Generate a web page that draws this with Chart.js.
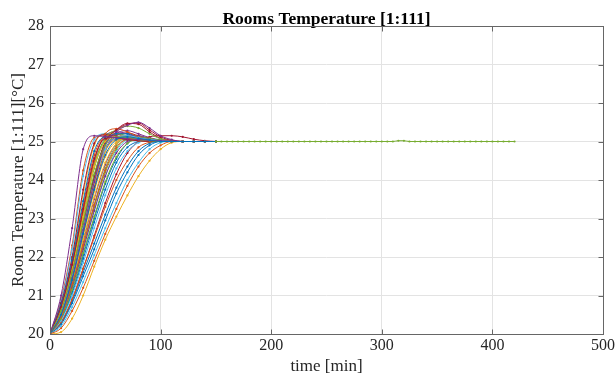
<!DOCTYPE html>
<html>
<head>
<meta charset="utf-8">
<script src="https://cdn.jsdelivr.net/npm/chart.js@4/dist/chart.umd.min.js"></script>
<style>
    html, body { margin: 0; padding: 0; background: #fff; }
</style>
</head>
<body>
<canvas id="chart" width="615" height="382"></canvas>
<script>
// time grid of every room curve [min]
var times = [0, 10, 20, 30, 40, 50, 60, 70, 80, 90, 100, 110, 120, 130, 140, 150];

// room temperatures [°C], one array per room
var rooms = [
    [20, 20.5, 21.4, 22.6, 23.75, 24.65, 25.05, 25.12, 25.08, 25.04, 25, 25, 25, 25, 25, 25],
    [20, 20.15, 20.6, 21.2, 21.9, 22.6, 23.25, 23.85, 24.35, 24.7, 24.9, 25, 25, 25, 25, 25],
    [20, 20.05, 20.4, 21.0, 21.75, 22.45, 23.05, 23.6, 24.1, 24.5, 24.8, 24.97, 25, 25, 25, 25],
    [20, 21.0, 22.75, 24.8, 25.15, 25.13, 25.1, 25.07, 25.05, 25.03, 25.02, 25.01, 25, 25, 25, 25],
    [20, 20.6, 21.6, 22.9, 24.15, 24.9, 25.12, 25.1, 25.05, 25.02, 25, 25, 25, 25, 25, 25],
    [20, 20.2, 20.7, 21.35, 22.05, 22.75, 23.4, 24.0, 24.45, 24.8, 24.97, 25, 25, 25, 25, 25],
    [20, 20.7, 21.8, 23.25, 24.55, 25.08, 25.1, 25.05, 25.02, 25, 25, 25, 25, 25, 25, 25],
    [20, 20.25, 20.8, 21.5, 22.2, 22.95, 23.65, 24.2, 24.65, 24.9, 25, 25, 25, 25, 25, 25],
    [20, 20.45, 21.3, 22.3, 23.35, 24.25, 24.85, 25.05, 25.06, 25.03, 25, 25, 25, 25, 25, 25],
    [20, 20.65, 21.7, 23.05, 24.35, 25.0, 25.12, 25.06, 25.02, 25, 25, 25, 25, 25, 25, 25],
    [20, 20.5, 21.45, 22.7, 23.95, 24.9, 25.25, 25.42, 25.5, 25.35, 25.15, 25.05, 25, 25, 25, 25],
    [20, 20.4, 21.15, 22.1, 23.05, 23.95, 24.6, 24.95, 25.05, 25.03, 25, 25, 25, 25, 25, 25],
    [20, 20.55, 21.5, 22.75, 23.95, 24.8, 25.1, 25.15, 25.1, 25.05, 25.02, 25, 25, 25, 25, 25],
    [20, 20.55, 21.55, 22.85, 24.1, 25.0, 25.3, 25.45, 25.48, 25.3, 25.12, 25.03, 25, 25, 25, 25],
    [20, 20.75, 21.9, 23.45, 24.75, 25.12, 25.1, 25.05, 25.02, 25, 25, 25, 25, 25, 25, 25],
    [20, 20.65, 21.8, 23.2, 24.5, 25.2, 25.33, 25.25, 25.12, 25.05, 25, 25, 25, 25, 25, 25],
    [20, 20.48, 21.35, 22.45, 23.55, 24.45, 24.95, 25.1, 25.08, 25.04, 25, 25, 25, 25, 25, 25],
    [20, 20.42, 21.2, 22.2, 23.2, 24.1, 24.7, 25.0, 25.05, 25.03, 25, 25, 25, 25, 25, 25],
    [20, 20.6, 21.7, 23.1, 24.4, 25.1, 25.3, 25.4, 25.35, 25.2, 25.07, 25.02, 25, 25, 25, 25],
    [20, 20.35, 21.0, 21.85, 22.75, 23.6, 24.3, 24.75, 24.97, 25.03, 25.02, 25, 25, 25, 25, 25],
    [20, 20.8, 22.0, 23.75, 24.95, 25.18, 25.14, 25.08, 25.04, 25.02, 25, 25, 25, 25, 25, 25],
    [20, 20.58, 21.55, 22.85, 24.1, 24.95, 25.2, 25.2, 25.12, 25.05, 25.02, 25, 25, 25, 25, 25],
    [20, 20.3, 20.9, 21.7, 22.5, 23.3, 24.0, 24.5, 24.85, 24.98, 25.02, 25.01, 25, 25, 25, 25],
    [20, 20.5, 21.38, 22.55, 23.7, 24.6, 25.0, 25.08, 25.05, 25.02, 25, 25, 25, 25, 25, 25],
    [20, 20.68, 21.75, 23.15, 24.5, 25.15, 25.25, 25.2, 25.1, 25.04, 25.01, 25, 25, 25, 25, 25],
    [20, 20.44, 21.25, 22.28, 23.3, 24.2, 24.8, 25.08, 25.12, 25.08, 25.03, 25, 25, 25, 25, 25],
    [20, 20.85, 22.2, 24.1, 25.05, 25.2, 25.15, 25.1, 25.05, 25.02, 25, 25, 25, 25, 25, 25],
    [20, 20.3, 20.9, 21.7, 22.55, 23.4, 24.15, 24.7, 25.0, 25.12, 25.15, 25.15, 25.12, 25.06, 25.02, 25],
    [20, 20.38, 21.1, 22.05, 23.0, 23.9, 24.55, 24.95, 25.08, 25.06, 25.02, 25, 25, 25, 25, 25],
    [20, 20.72, 21.85, 23.35, 24.65, 25.15, 25.18, 25.1, 25.04, 25.01, 25, 25, 25, 25, 25, 25],
    [20, 20.55, 21.48, 22.7, 23.9, 24.75, 25.05, 25.1, 25.06, 25.03, 25, 25, 25, 25, 25, 25],
    [20, 20.46, 21.3, 22.4, 23.5, 24.4, 24.95, 25.15, 25.15, 25.08, 25.03, 25, 25, 25, 25, 25],
    [20, 20.62, 21.65, 23.0, 24.3, 25.05, 25.2, 25.15, 25.08, 25.03, 25, 25, 25, 25, 25, 25],
    [20, 20.42, 21.22, 22.2, 23.2, 24.1, 24.75, 25.05, 25.1, 25.06, 25.02, 25, 25, 25, 25, 25],
    [20, 20.48, 21.4, 22.6, 23.8, 24.75, 25.15, 25.22, 25.15, 25.07, 25.02, 25, 25, 25, 25, 25],
    [20, 20.37, 21.05, 21.95, 22.9, 23.75, 24.45, 24.85, 25.0, 25.03, 25.01, 25, 25, 25, 25, 25],
    [20, 20.6, 21.58, 22.85, 24.05, 24.8, 25.05, 25.05, 25.02, 25, 25, 25, 25, 25, 25, 25],
    [20, 20.78, 21.95, 23.65, 24.9, 25.2, 25.2, 25.12, 25.06, 25.02, 25, 25, 25, 25, 25, 25],
    [20, 20.52, 21.45, 22.68, 23.88, 24.8, 25.2, 25.28, 25.2, 25.1, 25.04, 25.01, 25, 25, 25, 25],
    [20, 20.45, 21.28, 22.3, 23.35, 24.3, 24.9, 25.1, 25.08, 25.03, 25.01, 25, 25, 25, 25, 25],
    [20, 20.7, 21.78, 23.2, 24.45, 25.0, 25.05, 25.03, 25.01, 25, 25, 25, 25, 25, 25, 25],
    [20, 20.52, 21.5, 22.8, 24.0, 24.95, 25.3, 25.47, 25.45, 25.25, 25.08, 25.02, 25, 25, 25, 25],
    [20, 20.28, 20.85, 21.6, 22.35, 23.1, 23.8, 24.35, 24.75, 24.95, 25, 25, 25, 25, 25, 25],
    [20, 20.9, 22.3, 24.25, 25.1, 25.15, 25.1, 25.06, 25.03, 25.01, 25, 25, 25, 25, 25, 25]
];

// settled part of the last room, 150 .. 420 min
var tailTimes = [150, 155, 160, 165, 170, 175, 180, 185, 190, 195, 200, 205, 210, 215, 220, 225, 230, 235, 240,
    245, 250, 255, 260, 265, 270, 275, 280, 285, 290, 295, 300, 305, 310, 315, 320, 325, 330, 335, 340, 345,
    350, 355, 360, 365, 370, 375, 380, 385, 390, 395, 400, 405, 410, 415, 420];
var tailValues = [25, 25, 25, 25, 25, 25, 25, 25, 25, 25, 25, 25, 25, 25, 25, 25, 25, 25, 25,
    25, 25, 25, 25, 25, 25, 25, 25, 25, 25, 25, 25, 25, 25, 25.02, 25.02, 25, 25, 25, 25, 25,
    25, 25, 25, 25, 25, 25, 25, 25, 25, 25, 25, 25, 25, 25, 25];

var xTicks = [0, 100, 200, 300, 400, 500];
var yTicks = [20, 21, 22, 23, 24, 25, 26, 27, 28];

// matlab default line colours
var colors = ['#0072BD', '#D95319', '#EDB120', '#7E2F8E', '#77AC30', '#4DBEEE', '#A2142F'];

var serif = "'Liberation Serif', 'Times New Roman', serif";

function makeSet(label, xs, ys, color) {
    return {
        label: label,
        data: xs.map(function (x, i) { return {x: x, y: ys[i]}; }),
        borderColor: color,
        backgroundColor: color,
        borderWidth: 1,
        pointRadius: 1.1,
        pointBorderWidth: 0,
        pointBackgroundColor: color,
        cubicInterpolationMode: 'monotone',
        fill: false
    };
}

var datasets = [makeSet('tail', tailTimes, tailValues, colors[4])];
rooms.forEach(function (r, i) {
    datasets.push(makeSet('room ' + (i + 1), times, r, colors[i % colors.length]));
});

// the matlab axes box with small inward ticks
var boxPlugin = {
    id: 'box',
    afterDraw: function (chart) {
        var a = chart.chartArea;
        var ctx = chart.ctx;
        var l = Math.round(a.left) + 0.5, t = Math.round(a.top) + 0.5;
        var r = Math.round(a.right) + 0.5, b = Math.round(a.bottom) + 0.5;
        var len = 5;
        ctx.save();
        ctx.strokeStyle = '#666';
        ctx.lineWidth = 1;
        ctx.strokeRect(l, t, r - l, b - t);
        ctx.beginPath();
        xTicks.forEach(function (v) {
            var px = Math.round(chart.scales.x.getPixelForValue(v)) + 0.5;
            ctx.moveTo(px, b); ctx.lineTo(px, b - len);
            ctx.moveTo(px, t); ctx.lineTo(px, t + len);
        });
        yTicks.forEach(function (v) {
            var py = Math.round(chart.scales.y.getPixelForValue(v)) + 0.5;
            ctx.moveTo(l, py); ctx.lineTo(l + len, py);
            ctx.moveTo(r, py); ctx.lineTo(r - len, py);
        });
        ctx.stroke();
        ctx.restore();
    }
};

new Chart(document.getElementById('chart'), {
    type: 'line',
    data: {datasets: datasets},
    plugins: [boxPlugin],
    options: {
        responsive: false,
        animation: false,
        layout: {padding: {left: 0, top: 0, bottom: 0, right: 12}},
        plugins: {
            legend: {display: false},
            tooltip: {enabled: false},
            title: {
                display: true,
                text: 'Rooms Temperature [1:111]',
                color: '#000',
                fullSize: false,
                font: {family: serif, size: 17.5, weight: 'bold', lineHeight: 0.8},
                padding: {top: 12, bottom: 0}
            }
        },
        scales: {
            x: {
                type: 'linear',
                min: 0,
                max: 500,
                afterBuildTicks: function (s) { s.ticks = xTicks.map(function (v) { return {value: v}; }); },
                afterFit: function (s) {
                    s.height = 48;
                    s.paddingLeft = 0;
                    s.paddingRight = 0;
                },
                grid: {color: '#e3e3e3', drawTicks: false},
                border: {display: false},
                ticks: {color: '#262626', padding: 2, font: {family: serif, size: 16}},
                title: {
                    display: true,
                    text: 'time [min]',
                    color: '#262626',
                    font: {family: serif, size: 17},
                    padding: {top: 0, bottom: 5}
                }
            },
            y: {
                min: 20,
                max: 28,
                afterBuildTicks: function (s) { s.ticks = yTicks.map(function (v) { return {value: v}; }); },
                afterFit: function (s) {
                    s.width = 50;
                    s.paddingTop = 0;
                    s.paddingBottom = 0;
                },
                grid: {color: '#e3e3e3', drawTicks: false},
                border: {display: false},
                ticks: {color: '#262626', padding: 6, font: {family: serif, size: 16}},
                title: {
                    display: true,
                    text: 'Room Temperature [1:111][°C]',
                    color: '#262626',
                    font: {family: serif, size: 17},
                    padding: {top: 8, bottom: 0}
                }
            }
        }
    }
});
</script>
</body>
</html>
